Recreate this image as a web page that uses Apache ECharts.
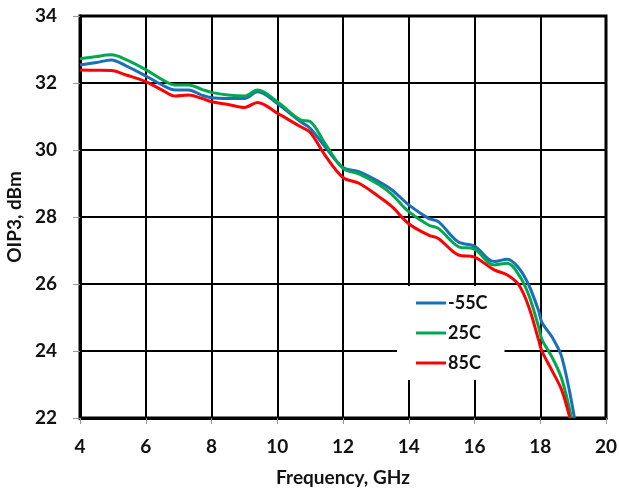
<!DOCTYPE html>
<html>
<head>
<meta charset="utf-8">
<script src="https://cdn.jsdelivr.net/npm/echarts@6/dist/echarts.min.js"></script>
<style>
html,body{margin:0;padding:0;background:#fff;}
#c{width:619px;height:491px;}
</style>
</head>
<body>
<div id="c"></div>
<script>
var freq = [4.0, 4.5, 4.95, 5.4, 6.0, 6.5, 6.9, 7.3, 7.7, 8.0, 8.5, 9.0, 9.4, 10.0, 10.7, 11.0, 11.45, 12.0, 12.5, 13.1, 13.5, 14.0, 14.6, 14.9, 15.5, 16.0, 16.6, 17.0, 17.35, 17.65, 17.95, 18.05, 18.35, 18.65];
var m55 = [32.54, 32.61, 32.69, 32.51, 32.21, 31.94, 31.79, 31.79, 31.64, 31.56, 31.54, 31.54, 31.74, 31.39, 30.85, 30.65, 30.10, 29.48, 29.35, 29.05, 28.80, 28.36, 27.96, 27.86, 27.26, 27.13, 26.67, 26.74, 26.47, 25.97, 25.20, 24.85, 24.43, 23.83];
var p25 = [32.72, 32.79, 32.84, 32.70, 32.40, 32.10, 31.94, 31.94, 31.81, 31.72, 31.64, 31.61, 31.79, 31.44, 30.90, 30.85, 30.20, 29.45, 29.28, 28.96, 28.66, 28.16, 27.76, 27.66, 27.12, 27.04, 26.57, 26.62, 26.27, 25.67, 24.72, 24.35, 23.83, 23.18];
var p85 = [32.39, 32.38, 32.37, 32.24, 32.04, 31.79, 31.61, 31.64, 31.54, 31.44, 31.36, 31.27, 31.42, 31.10, 30.70, 30.53, 29.85, 29.18, 29.00, 28.60, 28.30, 27.80, 27.46, 27.36, 26.87, 26.80, 26.42, 26.27, 25.97, 25.32, 24.33, 24.00, 23.43, 22.84];
// where each curve reaches the bottom of the chart (22 dBm)
var endFreq = [19.04, 18.95, 18.9];
var endVal = 22;
var names = ['-55C', '25C', '85C'];
var colors = ['#1a6fb8', '#00a84f', '#ff0000'];
var xTicks = [4, 6, 8, 10, 12, 14, 16, 18, 20];
var yTicks = [22, 24, 26, 28, 30, 32, 34];

function pairs(vals, ef) {
  var out = freq.map(function (f, i) { return [f, vals[i]]; });
  out.push([ef, endVal]);
  return out;
}
var allVals = [m55, p25, p85];
var FONT = 'Lato';
var chart = echarts.init(document.getElementById('c'), null, {renderer: 'canvas'});
chart.setOption({
  animation: false,
  backgroundColor: '#fff',
  grid: {left: 80, right: 13, top: 16, bottom: 73, show: true, borderColor: '#000', borderWidth: 3, backgroundColor: 'transparent', containLabel: false, outerBoundsMode: 'none'},
  xAxis: {
    type: 'value', min: xTicks[0], max: xTicks[xTicks.length - 1], interval: 2,
    name: 'Frequency, GHz', nameLocation: 'middle', nameGap: 50,
    nameTextStyle: {fontFamily: FONT, fontWeight: 'bold', fontSize: 19, color: '#111'},
    axisLine: {show: true, lineStyle: {color: '#000', width: 3}},
    axisTick: {show: true, length: 6, lineStyle: {color: '#999', width: 1}},
    axisLabel: {fontFamily: FONT, fontWeight: 'bold', fontSize: 19, color: '#111', margin: 19},
    splitLine: {show: true, lineStyle: {color: '#000', width: 2}}
  },
  yAxis: {
    type: 'value', min: yTicks[0], max: yTicks[yTicks.length - 1], interval: 2,
    name: 'OIP3, dBm', nameLocation: 'middle', nameGap: 53, nameRotate: 90,
    nameTextStyle: {fontFamily: FONT, fontWeight: 'bold', fontSize: 19, color: '#111'},
    axisLine: {show: true, lineStyle: {color: '#000', width: 3}},
    axisTick: {show: true, length: 7, lineStyle: {color: '#999', width: 1}},
    axisLabel: {fontFamily: FONT, fontWeight: 'bold', fontSize: 19, color: '#111', margin: 23},
    splitLine: {show: true, lineStyle: {color: '#000', width: 2}}
  },
  legend: {
    orient: 'vertical', left: 397, top: 286,
    backgroundColor: '#fff', padding: [7, 17, 7, 19],
    icon: 'rect', itemWidth: 30, itemHeight: 3, itemGap: 10,
    data: names,
    textStyle: {fontFamily: FONT, fontWeight: 'bold', fontSize: 18, color: '#111', lineHeight: 20, padding: [0, 0, 0, -3]}
  },
  series: names.map(function (n, i) {
    return {
      name: n, type: 'line', data: pairs(allVals[i], endFreq[i]),
      smooth: 0.35, symbol: 'none', showSymbol: false, clip: true,
      lineStyle: {color: colors[i], width: 3}, itemStyle: {color: colors[i]},
      z: 3 + i
    };
  })
});
</script>
</body>
</html>
